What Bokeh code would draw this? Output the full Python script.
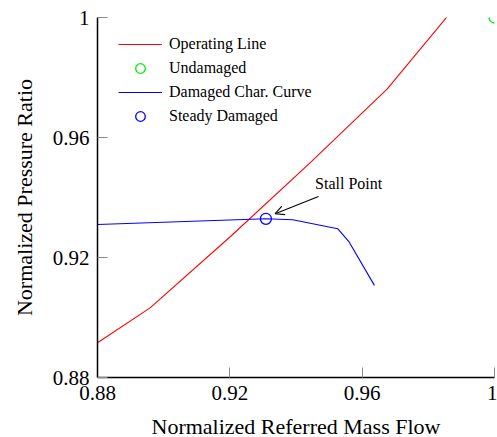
from bokeh.plotting import figure
from bokeh.models import Range1d, Legend, LegendItem, Arrow, OpenHead, Label, FixedTicker
from bokeh.embed import file_html
from bokeh.resources import INLINE

# Operating line (normalized referred mass flow vs. normalized pressure ratio)
op_flow = [0.880, 0.8959, 0.9202, 0.9444, 0.9676, 0.9857]
op_pr = [0.8916, 0.9032, 0.9270, 0.9517, 0.9762, 1.0003]

# Undamaged design point
undamaged_flow = [1.0]
undamaged_pr = [1.0]

# Damaged compressor characteristic
dmg_flow = [0.880, 0.9309, 0.9390, 0.9526, 0.9561, 0.9637]
dmg_pr = [0.9310, 0.9329, 0.9326, 0.9296, 0.9251, 0.9107]

# Steady operating point of the damaged machine (stall point)
steady_flow = [0.9309]
steady_pr = [0.9329]

ticks = [0.88, 0.92, 0.96, 1.0]
tick_labels = {0.88: "0.88", 0.92: "0.92", 0.96: "0.96", 1.0: "1"}

FONT = "Liberation Serif"

p = figure(width=497, height=437, output_backend="svg", toolbar_location=None,
           x_range=Range1d(0.88, 1.0), y_range=Range1d(0.88, 1.0),
           frame_width=397, frame_height=360,
           min_border_left=97, min_border_right=3, min_border_top=17, min_border_bottom=60)
p.outline_line_color = None
p.grid.visible = False
p.background_fill_color = "white"
p.border_fill_color = "white"

for ax in (p.xaxis[0], p.yaxis[0]):
    ax.ticker = FixedTicker(ticks=ticks)
    ax.major_label_overrides = tick_labels
    ax.minor_tick_line_color = None
    ax.major_tick_in = 10
    ax.major_tick_out = 0
    ax.major_tick_line_color = "#8a8a8a"
    ax.major_tick_line_width = 1
    ax.axis_line_color = "black"
    ax.axis_line_width = 1.5
    ax.major_label_text_font = FONT
    ax.major_label_text_font_size = "21px"
    ax.major_label_text_color = "black"
    ax.axis_label_text_font = FONT
    ax.axis_label_text_font_size = "22px"
    ax.axis_label_text_font_style = "normal"
    ax.axis_label_text_color = "black"

p.xaxis.axis_label = "Normalized Referred Mass Flow"
p.yaxis.axis_label = "Normalized Pressure Ratio"
p.xaxis.major_label_standoff = 8
p.xaxis.axis_label_standoff = 11
p.yaxis.major_label_standoff = 8
p.yaxis.axis_label_standoff = 13

r_op = p.line(op_flow, op_pr, line_color="#ff0000", line_width=1.1)
r_und = p.scatter(undamaged_flow, undamaged_pr, marker="circle", size=11,
                  fill_color=None, line_color="#00ee00", line_width=1.3)
r_dmg = p.line(dmg_flow, dmg_pr, line_color="#0000ff", line_width=1.1)
r_std = p.scatter(steady_flow, steady_pr, marker="circle", size=11,
                  fill_color=None, line_color="#0000ff", line_width=1.3)

# Annotation pointing at the stall point
p.add_layout(Arrow(end=OpenHead(size=9, line_width=1.1, line_color="black"),
                   x_start=0.9468, y_start=0.9403, x_end=0.9337, y_end=0.9346,
                   line_width=1.1, line_color="black"))
p.add_layout(Label(x=0.9559, y=0.9447, text="Stall Point", text_font=FONT,
                   text_font_size="16px", text_align="center", text_baseline="middle",
                   text_color="black"))

legend = Legend(items=[
    LegendItem(label="Operating Line", renderers=[r_op]),
    LegendItem(label="Undamaged", renderers=[r_und]),
    LegendItem(label="Damaged Char. Curve", renderers=[r_dmg]),
    LegendItem(label="Steady Damaged", renderers=[r_std]),
], location=(21, 249))
legend.border_line_color = None
legend.background_fill_alpha = 0
legend.padding = 0
legend.margin = 0
legend.spacing = 0
legend.glyph_width = 44
legend.glyph_height = 24
legend.label_height = 24
legend.label_standoff = 7
legend.label_text_font = FONT
legend.label_text_font_size = "16px"
legend.label_text_color = "black"
p.add_layout(legend)

open("out.html", "w").write(file_html(p, INLINE))
